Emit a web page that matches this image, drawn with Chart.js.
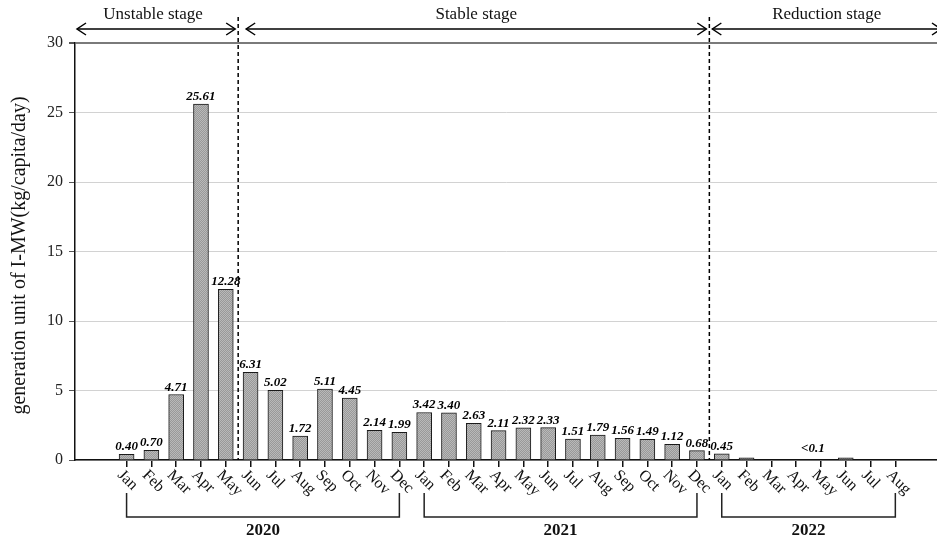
<!DOCTYPE html>
<html><head><meta charset="utf-8">
<script src="https://cdn.jsdelivr.net/npm/chart.js@4.4.1/dist/chart.umd.min.js"></script>
<style>html,body{margin:0;padding:0;background:#fff;}#wrap{width:937px;height:542px;}</style>
</head><body><div id="wrap"><canvas id="c" width="937" height="542"></canvas></div>
<script>
const months = ['Jan','Feb','Mar','Apr','May','Jun','Jul','Aug','Sep','Oct','Nov','Dec',
                'Jan','Feb','Mar','Apr','May','Jun','Jul','Aug','Sep','Oct','Nov','Dec',
                'Jan','Feb','Mar','Apr','May','Jun','Jul','Aug'];
const years = ['2020','2021','2022'];
const yearMonthCounts = [12, 12, 8];
const values2020 = [0.40,0.70,4.71,25.61,12.28,6.31,5.02,1.72,5.11,4.45,2.14,1.99];
const values2021 = [3.42,3.40,2.63,2.11,2.32,2.33,1.51,1.79,1.56,1.49,1.12,0.68];
const values2022 = [0.45,0.15,0,0,0,0.15,0,0];
const valueLabels = ['0.40','0.70','4.71','25.61','12.28','6.31','5.02','1.72','5.11','4.45','2.14','1.99',
                     '3.42','3.40','2.63','2.11','2.32','2.33','1.51','1.79','1.56','1.49','1.12','0.68',
                     '0.45','','','','<0.1','','',''];
const stages = ['Unstable stage','Stable stage','Reduction stage'];
const stageBoundaries = [4.5, 23.5];
const yTicks = [0,5,10,15,20,25,30];
const yTitle = 'generation unit of I-MW(kg/capita/day)';

const allValues = values2020.concat(values2021, values2022);
const points = allValues.map((v, i) => ({x: i, y: v}));

const pc = document.createElement('canvas');
pc.width = 2; pc.height = 2;
const pctx = pc.getContext('2d');
pctx.fillStyle = '#999999'; pctx.fillRect(0,0,2,2);
pctx.fillStyle = '#b9b9b9'; pctx.fillRect(0,0,1,1); pctx.fillRect(1,1,1,1);
const pattern = pctx.createPattern(pc, 'repeat');

const SERIF = '"Liberation Serif", "Times New Roman", serif';

function arrowHead(ctx, x, y, dir) {
  ctx.beginPath();
  ctx.moveTo(x - dir * 9, y - 6);
  ctx.lineTo(x, y);
  ctx.lineTo(x - dir * 9, y + 6);
  ctx.stroke();
}
function arrow(ctx, x1, x2, y) {
  ctx.beginPath(); ctx.moveTo(x1, y); ctx.lineTo(x2, y); ctx.stroke();
  arrowHead(ctx, x1, y, -1);
  arrowHead(ctx, x2, y, 1);
}

const decor = {
  id: 'decor',
  afterDraw(chart) {
    const ctx = chart.ctx;
    const xs = chart.scales.x, ys = chart.scales.y;
    const area = chart.chartArea;
    ctx.save();
    ctx.fillStyle = '#000';
    // y title
    ctx.save();
    ctx.translate(20, (area.top + area.bottom) / 2 + 4);
    ctx.rotate(-Math.PI / 2);
    ctx.font = '20px ' + SERIF;
    ctx.textAlign = 'center'; ctx.textBaseline = 'middle';
    ctx.fillStyle = '#111';
    ctx.fillText(yTitle, 0, 0);
    ctx.restore();
    // x tick labels (rotated)
    ctx.font = '16px ' + SERIF;
    ctx.fillStyle = '#111';
    months.forEach((m, i) => {
      const x = xs.getPixelForValue(i);
      ctx.save();
      ctx.translate(x - 1, 467);
      ctx.rotate(Math.PI / 4);
      ctx.textAlign = 'left'; ctx.textBaseline = 'top';
      ctx.fillText(m, 0, 0);
      ctx.restore();
    });
    // value labels
    ctx.font = 'italic bold 13px ' + SERIF;
    ctx.fillStyle = '#000';
    ctx.textAlign = 'center'; ctx.textBaseline = 'alphabetic';
    valueLabels.forEach((t, i) => {
      if (!t) return;
      let x = xs.getPixelForValue(i);
      let y = ys.getPixelForValue(allValues[i]) - 4;
      if (t.startsWith('<')) { x -= 8; y -= 4; }
      ctx.fillText(t, x, y);
    });
    // stage boundaries
    ctx.strokeStyle = '#000';
    ctx.lineWidth = 1.5;
    ctx.setLineDash([4, 3]);
    const bx = stageBoundaries.map(b => xs.getPixelForValue(b));
    bx.forEach(x => {
      ctx.beginPath(); ctx.moveTo(x, 17); ctx.lineTo(x, area.bottom); ctx.stroke();
    });
    ctx.setLineDash([]);
    // arrows
    const ay = 29;
    const spans = [[area.left + 2, bx[0] - 3], [bx[0] + 8, bx[1] - 3], [bx[1] + 3, area.right + 4]];
    ctx.lineWidth = 1.5;
    spans.forEach(s => arrow(ctx, s[0], s[1], ay));
    ctx.font = '17px ' + SERIF;
    ctx.fillStyle = '#111';
    ctx.textAlign = 'center'; ctx.textBaseline = 'middle';
    const stageCenters = [(spans[0][0] + spans[0][1]) / 2 - 3, (spans[1][0] + spans[1][1]) / 2, (spans[2][0] + spans[2][1]) / 2];
    stages.forEach((s, i) => ctx.fillText(s, stageCenters[i], 15));
    // year brackets
    ctx.lineWidth = 1.5;
    ctx.strokeStyle = '#222';
    ctx.font = 'bold 17px ' + SERIF;
    ctx.fillStyle = '#111';
    let start = 0;
    years.forEach((yr, k) => {
      const end = start + yearMonthCounts[k] - 1;
      const x1 = xs.getPixelForValue(start), x2 = xs.getPixelForValue(end);
      ctx.beginPath();
      ctx.moveTo(x1, 493); ctx.lineTo(x1, 517); ctx.lineTo(x2, 517); ctx.lineTo(x2, 493);
      ctx.stroke();
      ctx.fillText(yr, (x1 + x2) / 2, 531);
      start = end + 1;
    });
    ctx.restore();
  }
};

new Chart(document.getElementById('c'), {
  type: 'bar',
  data: {
    datasets: [{
      data: points,
      backgroundColor: pattern,
      borderColor: '#1a1a1a',
      borderWidth: 1,
      barThickness: 15
    }]
  },
  options: {
    responsive: false,
    animation: false,
    layout: { padding: { top: 43, left: 0, right: 0, bottom: 0 } },
    plugins: { legend: { display: false }, tooltip: { enabled: false } },
    scales: {
      x: {
        type: 'linear',
        min: -2.08,
        max: 32.68,
        offset: false,
        afterBuildTicks: s => { s.ticks = months.map((m, i) => ({ value: i })); },
        afterFit: s => { s.height = 82; },
        ticks: { display: false },
        grid: { offset: false, drawOnChartArea: false, drawTicks: true, tickLength: 7, color: '#111', lineWidth: 1.5 },
        border: { display: true, color: '#111', width: 1.5 }
      },
      y: {
        min: 0, max: 30,
        afterBuildTicks: s => { s.ticks = yTicks.map(v => ({ value: v })); },
        afterFit: s => { s.width = 75; },
        ticks: { font: { family: SERIF, size: 16 }, color: '#222', padding: 6 },
        grid: {
          color: c => (c.tick && c.tick.value === 30) ? '#7a7a7a' : '#d2d2d2',
          lineWidth: c => (c.tick && c.tick.value === 30) ? 2 : 1,
          tickColor: '#555', tickLength: 6
        },
        border: { display: true, color: '#111', width: 1.5 }
      }
    }
  },
  plugins: [decor]
});
</script>
</body></html>
